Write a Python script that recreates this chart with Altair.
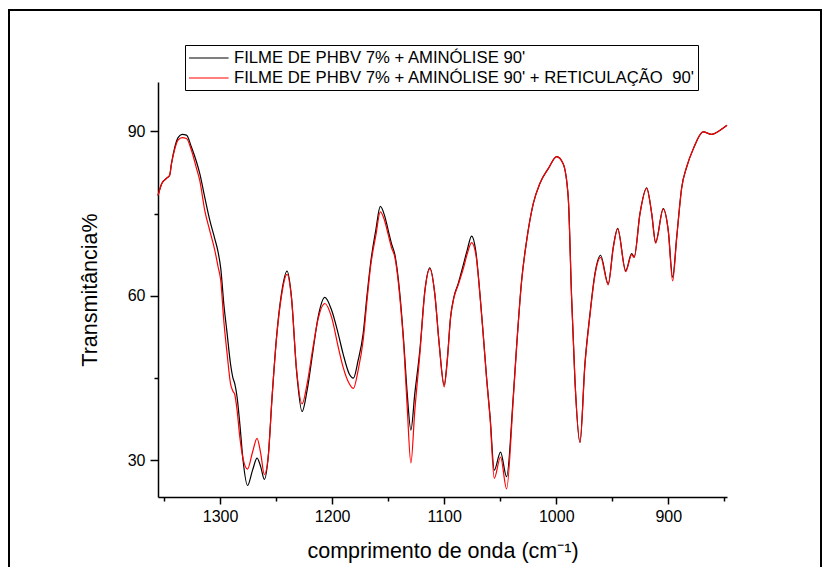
import altair as alt
import pandas as pd

# wavenumber (cm-1) and transmittance (%)
WN = [1355.4, 1352.0, 1348.0, 1345.0, 1343.4, 1340.4, 1337.5, 1333.9, 1330.0, 1325.5,
      1321.0, 1318.1, 1313.7, 1309.2, 1304.7, 1301.8, 1299.4, 1296.7, 1293.7, 1290.7,
      1288.5, 1286.9, 1284.8, 1282.4, 1279.5, 1275.5, 1271.0, 1267.0, 1263.7, 1260.5,
      1257.1, 1253.6, 1249.6, 1245.2, 1240.2, 1236.3, 1231.8, 1226.8, 1222.3, 1217.0,
      1212.5, 1206.5, 1200.5, 1194.6, 1190.2, 1184.8, 1181.0, 1176.8, 1172.3, 1168.7,
      1165.7, 1161.0, 1157.0, 1153.0, 1150.0, 1147.0, 1144.0, 1139.6, 1136.0, 1133.0,
      1129.7, 1126.2, 1121.7, 1117.2, 1112.8, 1108.4, 1104.5, 1100.0, 1097.3, 1094.3,
      1091.3, 1087.5, 1083.0, 1079.5, 1075.5, 1071.7, 1068.1, 1065.2, 1062.2, 1059.0,
      1055.3, 1049.7, 1044.3, 1038.4, 1035.4, 1030.9, 1026.4, 1020.5, 1014.6, 1007.1,
      999.6, 993.8, 989.3, 986.3, 983.3, 978.8, 974.4, 969.9, 965.5, 960.4,
      953.6, 949.1, 945.2, 938.0, 932.7, 930.4, 925.3, 919.3, 914.8, 911.3,
      904.5, 900.0, 896.1, 892.5, 888.0, 883.6, 877.7, 868.8, 861.3, 853.8,
      847.6]

T_BLACK = [78.3, 80.5, 81.4, 82.0, 84.1, 87.1, 88.85, 89.45, 89.3, 87.1,
           84.4, 82.3, 78.0, 73.8, 70.4, 68.0, 65.0, 58.6, 53.1, 47.6,
           45.0, 44.0, 41.5, 36.7, 30.0, 25.4, 28.2, 30.4, 28.8, 26.5,
           30.5, 41.5, 52.5, 60.4, 64.5, 59.8, 46.4, 38.9, 42.8, 50.1,
           56.1, 59.7, 57.4, 53.1, 49.4, 45.8, 45.0, 48.2, 53.1, 60.4,
           65.9, 72.0, 76.3, 74.5, 72.0, 69.5, 67.5, 60.4, 51.3, 42.2,
           35.5, 42.2, 50.1, 61.0, 65.1, 60.4, 51.3, 43.7, 48.2, 56.1,
           59.8, 62.2, 65.6, 68.3, 70.9, 68.0, 60.4, 53.1, 45.2, 37.9,
           28.2, 31.5, 27.0, 41.5, 50.7, 62.8, 70.1, 76.8, 80.5, 83.2,
           85.4, 84.1, 78.0, 59.8, 44.6, 33.3, 47.6, 56.7, 64.0, 67.4,
           62.2, 68.9, 72.3, 64.6, 67.7, 67.1, 75.0, 79.7, 75.0, 69.8,
           75.9, 71.9, 63.4, 70.7, 79.8, 83.5, 86.8, 89.9, 89.45, 90.2,
           91.1]

T_RED = [78.3, 80.5, 81.4, 82.0, 84.0, 86.8, 88.4, 88.85, 88.7, 86.5,
         83.2, 81.0, 75.6, 71.9, 68.3, 65.3, 62.8, 55.5, 49.4, 44.0,
         42.6, 42.0, 39.1, 34.25, 30.3, 28.4, 31.5, 34.0, 31.2, 27.4,
         30.5, 41.5, 52.3, 60.0, 63.9, 59.6, 46.7, 40.3, 44.0, 50.7,
         55.8, 58.6, 56.1, 50.7, 47.0, 44.0, 43.1, 46.4, 51.9, 59.5,
         65.3, 71.0, 75.3, 73.6, 71.2, 68.8, 67.0, 59.8, 50.7, 39.7,
         29.5, 39.1, 49.4, 60.8, 64.9, 60.4, 51.3, 43.4, 48.0, 56.0,
         59.6, 62.0, 64.9, 67.6, 69.7, 67.5, 60.2, 53.0, 45.0, 37.5,
         26.7, 30.6, 24.8, 41.0, 50.5, 62.6, 70.0, 76.8, 80.5, 83.2,
         85.4, 84.1, 78.0, 59.8, 44.6, 33.2, 47.3, 56.4, 63.7, 67.0,
         62.0, 68.7, 72.2, 64.4, 67.5, 67.0, 74.9, 79.6, 75.0, 69.6,
         75.8, 71.8, 62.7, 70.5, 79.7, 83.5, 86.8, 89.9, 89.45, 90.2,
         91.1]

SERIES = ["FILME DE PHBV 7% + AMINÓLISE 90'",
          "FILME DE PHBV 7% + AMINÓLISE 90' + RETICULAÇÃO\u00a0 90'"]
COLORS = ["#000000", "#ff0000"]
X_TICKS = [1350, 1300, 1250, 1200, 1150, 1100, 1050, 1000, 950, 900, 850]
Y_TICKS = [30, 45, 60, 75, 90]
X_DOMAIN = [847.6, 1355.4]
Y_DOMAIN = [23.3, 99.0]

FONT = "Liberation Sans"

df_b = pd.DataFrame({"wn": WN, "t": T_BLACK, "serie": SERIES[0]})
df_r = pd.DataFrame({"wn": WN, "t": T_RED, "serie": SERIES[1]})

x_enc = alt.X(
    "wn:Q",
    scale=alt.Scale(domain=X_DOMAIN, reverse=True, nice=False, zero=False),
    axis=alt.Axis(
        values=X_TICKS,
        format="d",
        labelExpr="datum.value % 100 == 0 ? datum.label : ''",
        tickSize={"condition": {"test": "datum.value % 100 == 0", "value": 7}, "value": 4},
        labelFlush=False,
        labelOverlap=False,
        labelPadding=4,
        titlePadding=16,
        grid=False,
        title="comprimento de onda (cm⁻¹)",
    ),
)
y_enc = alt.Y(
    "t:Q",
    scale=alt.Scale(domain=Y_DOMAIN, nice=False, zero=False),
    axis=alt.Axis(
        values=Y_TICKS,
        labelExpr="datum.value % 30 == 0 ? datum.label : ''",
        tickSize={"condition": {"test": "datum.value % 30 == 0", "value": 8}, "value": 4},
        labelFlush=False,
        labelOverlap=False,
        labelPadding=5,
        titlePadding=26,
        grid=False,
        title="Transmitância%",
    ),
)
color_enc = alt.Color(
    "serie:N",
    scale=alt.Scale(domain=SERIES, range=COLORS),
    legend=alt.Legend(
        title=None,
        orient="none",
        legendX=27,
        legendY=-37,
        symbolType="M-1,0H3.4",
        symbolSize=324,
        symbolStrokeWidth=1.2,
        labelFont=FONT,
        labelFontSize=16.7,
        labelColor="black",
        labelLimit=0,
        labelOffset=26,
        strokeColor="black",
        fillColor="white",
        padding=3,
        rowPadding=1,
    ),
)

frame = alt.Chart(pd.DataFrame({"k": [0]})).mark_rect(
    fillOpacity=0, stroke="black", strokeWidth=2
).encode(
    x=alt.value(-149), x2=alt.value(663), y=alt.value(-72), y2=alt.value(560)
)

line_b = alt.Chart(df_b).mark_line(strokeWidth=1.2, interpolate="monotone").encode(
    x=x_enc, y=y_enc, color=color_enc
)
line_r = alt.Chart(df_r).mark_line(strokeWidth=1.2, interpolate="monotone").encode(
    x=x_enc, y=y_enc, color=color_enc
)

chart = alt.layer(frame, line_b, line_r).properties(
    width=569,
    height=415,
    padding={"left": 150, "top": 74, "right": 95, "bottom": 70},
    autosize="none",
    background="white",
).configure_axis(
    domainColor="black",
    domainWidth=1.5,
    tickColor="black",
    tickWidth=1.5,
    labelColor="black",
    titleColor="black",
    labelFont=FONT,
    titleFont=FONT,
    labelFontSize=16,
    titleFontSize=21.5,
    titleFontWeight="normal",
).configure_view(stroke="transparent")

chart.save("out.html", embed_options={"renderer": "svg", "actions": False})
